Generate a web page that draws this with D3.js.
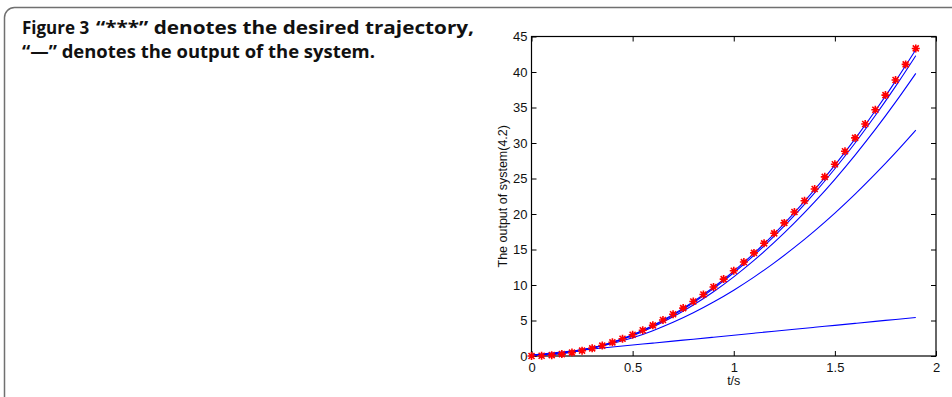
<!DOCTYPE html>
<html>
<head>
<meta charset="utf-8">
<script src="https://cdn.jsdelivr.net/npm/d3@7"></script>
<style>
  body { margin: 0; background: #fff; }
  svg { display: block; }
</style>
</head>
<body>
<div id="chart"></div>
<script>
// time grid of the simulated outputs (step 0.1) and of the desired trajectory (step 0.05)
var tLine = [0, 0.1, 0.2, 0.3, 0.4, 0.5, 0.6, 0.7, 0.8, 0.9, 1.0,
             1.1, 1.2, 1.3, 1.4, 1.5, 1.6, 1.7, 1.8, 1.9];
var tStar = [0, 0.05, 0.1, 0.15, 0.2, 0.25, 0.3, 0.35, 0.4, 0.45, 0.5,
             0.55, 0.6, 0.65, 0.7, 0.75, 0.8, 0.85, 0.9, 0.95, 1.0,
             1.05, 1.1, 1.15, 1.2, 1.25, 1.3, 1.35, 1.4, 1.45, 1.5,
             1.55, 1.6, 1.65, 1.7, 1.75, 1.8, 1.85, 1.9];

// desired trajectory "***"
var desired = [0, 0.03, 0.12, 0.27, 0.48, 0.75, 1.08, 1.47, 1.92, 2.43, 3.0,
               3.63, 4.32, 5.07, 5.88, 6.75, 7.68, 8.67, 9.72, 10.83, 12.0,
               13.23, 14.52, 15.87, 17.28, 18.75, 20.28, 21.87, 23.52, 25.23, 27.0,
               28.83, 30.72, 32.67, 34.68, 36.75, 38.88, 41.07, 43.32];

// outputs of the system, one per iteration
var out1 = [0.1, 0.22, 0.56, 1.12, 1.94, 2.99, 4.30, 5.86, 7.65, 9.68, 11.95,
            14.46, 17.21, 20.2, 23.42, 26.89, 30.59, 34.54, 38.72, 43.14];
var out2 = [0.12, 0.24, 0.55, 1.1, 1.9, 2.95, 4.22, 5.74, 7.5, 9.49, 11.72,
            14.18, 16.88, 19.81, 22.97, 26.37, 30.0, 33.87, 37.97, 42.3];
var out3 = [0.1, 0.24, 0.59, 1.14, 1.9, 2.85, 4.08, 5.52, 7.18, 9.05, 11.15,
            13.47, 15.99, 18.74, 21.7, 24.89, 28.3, 31.91, 35.75, 39.8];
var out4 = [0.12, 0.3, 0.65, 1.14, 1.77, 2.56, 3.57, 4.75, 6.09, 7.6, 9.27,
            11.11, 13.12, 15.29, 17.63, 20.13, 22.8, 25.64, 28.64, 31.8];
var out5 = [0.15, 0.43, 0.7, 0.98, 1.26, 1.54, 1.82, 2.1, 2.37, 2.65, 2.93,
            3.21, 3.49, 3.76, 4.04, 4.32, 4.6, 4.88, 5.15, 5.43];
var outputs = [out5, out4, out3, out2, out1];

var xTicks = [0, 0.5, 1, 1.5, 2];
var yTicks = [0, 5, 10, 15, 20, 25, 30, 35, 40, 45];

var captionFig = "Figure 3";
var captionLine1 = "\u201C***\u201D denotes the desired trajectory,";
var captionLine2 = "\u201C\u2014\u201D denotes the output of the system.";

var svg = d3.select("#chart")
  .append("svg")
  .attr("width", 952)
  .attr("height", 397);

// card border
svg.append("rect")
  .attr("x", 4.5)
  .attr("y", 7.5)
  .attr("width", 960)
  .attr("height", 420)
  .attr("rx", 10)
  .attr("fill", "none")
  .attr("stroke", "#707070")
  .attr("stroke-width", 1.5);

// caption
var cap = svg.append("g")
  .attr("font-family", "'Open Sans', 'Noto Sans', sans-serif")
  .attr("font-weight", "bold")
  .attr("font-size", 17)
  .attr("fill", "#111");

var l1 = cap.append("text").attr("x", 22).attr("y", 33.5);
l1.append("tspan").text(captionFig);
l1.append("tspan").attr("x", 96).attr("textLength", 378).attr("lengthAdjust", "spacingAndGlyphs")
  .text(captionLine1);
cap.append("text").attr("x", 22).attr("y", 57.5)
  .attr("textLength", 353).attr("lengthAdjust", "spacingAndGlyphs")
  .text(captionLine2);

var margin = {left: 531.5, right: 936, top: 36.5, bottom: 356};

var x = d3.scaleLinear()
    .domain([0, 2])
    .range([margin.left, margin.right]);

var y = d3.scaleLinear()
    .domain([0, 45])
    .range([margin.bottom, margin.top]);

var font = "'Liberation Sans', Arial, sans-serif";

function styleAxis(g) {
  g.select(".domain").remove();
  g.selectAll("text")
    .attr("font-family", font)
    .style("font-size", "13px")
    .attr("fill", "#111");
  g.selectAll("line").attr("stroke", "#000");
}

// box
svg.append("rect")
  .attr("x", x(0))
  .attr("y", y(45))
  .attr("width", x(2) - x(0))
  .attr("height", y(0) - y(45))
  .attr("fill", "none")
  .attr("stroke", "#000")
  .attr("stroke-width", 1.2);

// x axis: ticks inside, bottom and top
svg.append("g")
    .attr("transform", "translate(0," + y(0) + ")")
    .call(d3.axisBottom(x).tickValues(xTicks).tickSizeInner(-5).tickSizeOuter(0).tickPadding(7)
      .tickFormat(function(d) { return d; }))
    .call(styleAxis);

svg.append("g")
    .attr("transform", "translate(0," + y(45) + ")")
    .call(d3.axisTop(x).tickValues(xTicks).tickSizeInner(-5).tickSizeOuter(0).tickFormat(""))
    .call(styleAxis);

// y axis: ticks inside, left and right
svg.append("g")
    .attr("transform", "translate(" + x(0) + ",0)")
    .call(d3.axisLeft(y).tickValues(yTicks).tickSizeInner(-5).tickSizeOuter(0).tickPadding(4))
    .call(styleAxis);

svg.append("g")
    .attr("transform", "translate(" + x(2) + ",0)")
    .call(d3.axisRight(y).tickValues(yTicks).tickSizeInner(-5).tickSizeOuter(0).tickFormat(""))
    .call(styleAxis);

// axis labels
svg.append("text")
  .attr("x", x(1))
  .attr("y", 385)
  .attr("text-anchor", "middle")
  .attr("font-family", font)
  .attr("font-size", 12.5)
  .attr("fill", "#111")
  .text("t/s");

svg.append("text")
  .attr("transform", "translate(507," + y(22.5) + ") rotate(-90)")
  .attr("text-anchor", "middle")
  .attr("font-family", font)
  .attr("font-size", 12.5)
  .attr("fill", "#111")
  .text("The output of system(4.2)");

// outputs
var line = d3.line()
    .x(function(d, i) { return x(tLine[i]); })
    .y(function(d) { return y(d); })
    .curve(d3.curveMonotoneX);

svg.append("g")
  .selectAll("path")
  .data(outputs)
  .enter().append("path")
    .attr("d", line)
    .attr("fill", "none")
    .attr("stroke", "#0000ff")
    .attr("stroke-width", 1.1);

// desired trajectory, MATLAB-style asterisks
var r = 4;
var star = "M" + (-r) + ",0L" + r + ",0M0," + (-r) + "L0," + r +
  "M" + (-r * 0.75) + "," + (-r * 0.75) + "L" + (r * 0.75) + "," + (r * 0.75) +
  "M" + (-r * 0.75) + "," + (r * 0.75) + "L" + (r * 0.75) + "," + (-r * 0.75);

svg.append("g")
  .selectAll("path")
  .data(desired)
  .enter().append("path")
    .attr("transform", function(d, i) { return "translate(" + x(tStar[i]) + "," + y(d) + ")"; })
    .attr("d", star)
    .attr("fill", "none")
    .attr("stroke", "#ff0000")
    .attr("stroke-width", 1.6);
</script>
</body>
</html>
